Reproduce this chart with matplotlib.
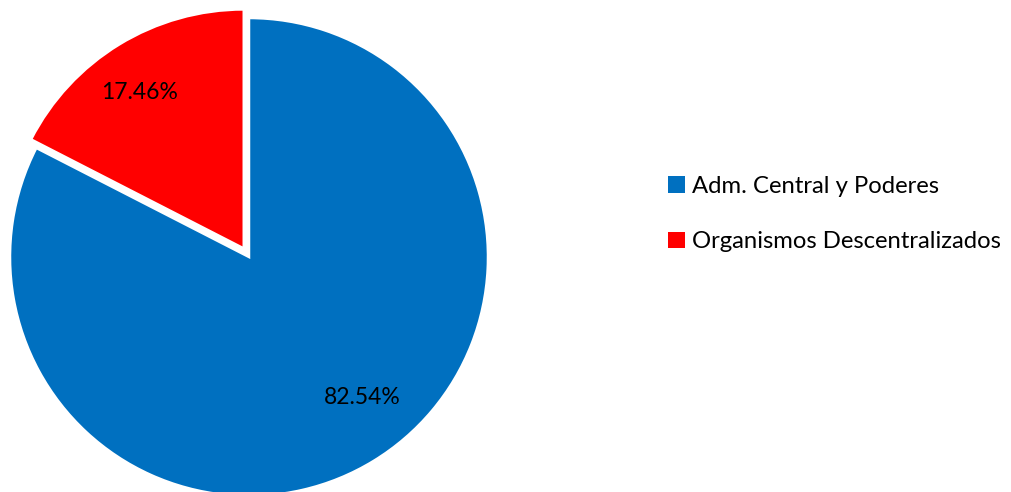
import matplotlib
matplotlib.use("Agg")
import matplotlib.pyplot as plt
from matplotlib.patches import Patch

categories = ["Adm. Central y Poderes", "Organismos Descentralizados"]
shares = [82.54, 17.46]
colors = ["#0070C0", "#FF0000"]
explode = [0.0, 0.042]

plt.rcParams["font.family"] = ["Lato", "DejaVu Sans"]

W, H = 1012, 492
fig = plt.figure(figsize=(W / 100, H / 100), dpi=100)

# square axes centred on the pie
cx, cy, r_px = 249, H - 257, 239
half = 250
ax = fig.add_axes([(cx - half) / W, (cy - half) / H, 2 * half / W, 2 * half / H])

wedges, texts, autotexts = ax.pie(
    shares,
    colors=colors,
    explode=explode,
    startangle=90,
    counterclock=False,
    autopct=lambda p: f"{p:.2f}%",
    pctdistance=0.77,
    wedgeprops=dict(edgecolor="white", linewidth=1.8),
    textprops=dict(fontsize=16.5, color="black"),
)
# percentage labels placed like the spreadsheet's best-fit layout
autotexts[0].set_position((0.473, -0.586))
autotexts[1].set_position((-0.456, 0.690))

lim = half / r_px
ax.set_xlim(-lim, lim)
ax.set_ylim(-lim, lim)
ax.set_aspect("equal")
ax.axis("off")

handles = [Patch(facecolor=c, edgecolor="none") for c in colors]
fig.legend(
    handles,
    categories,
    loc="center left",
    bbox_to_anchor=(647 / W, (H - 214) / H),
    frameon=False,
    fontsize=17.2,
    handlelength=0.68,
    handleheight=0.68,
    handletextpad=0.3,
    labelspacing=1.45,
)

fig.savefig("out.png", dpi=100)
